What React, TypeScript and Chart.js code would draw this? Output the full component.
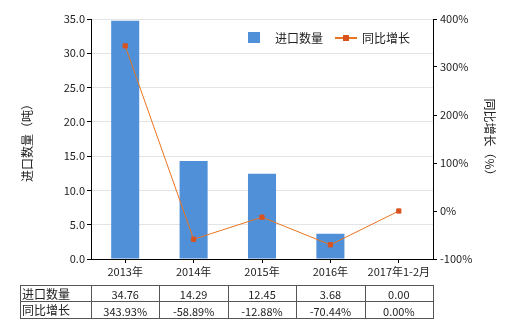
import React, { useEffect, useRef } from 'react';
import { Chart, registerables } from 'chart.js';
Chart.register(...registerables);

const categories = ['2013年', '2014年', '2015年', '2016年', '2017年1-2月'];
const importQty = [34.76, 14.29, 12.45, 3.68, 0.0];
const yoyGrowth = [343.93, -58.89, -12.88, -70.44, 0.0];
const qtyLabels = ['34.76', '14.29', '12.45', '3.68', '0.00'];
const growthLabels = ['343.93%', '-58.89%', '-12.88%', '-70.44%', '0.00%'];
const seriesNames = ['进口数量', '同比增长'];
const leftTitle = '进口数量（吨）';
const rightTitle = '同比增长（%）';

const FONT = '"Noto Sans CJK SC", "Noto Sans", sans-serif';
const BAR_COLOR = '#5090d8';
const LINE_COLOR = '#ea7420';
const POINT_COLOR = '#d9531e';
const TEXT = '#222';

const overlay = {
  id: 'overlay',
  afterDraw(chart: any) {
    const ctx = chart.ctx;
    const x = chart.scales.x;
    ctx.save();
    // axis titles
    ctx.fillStyle = TEXT;
    ctx.font = `12px ${FONT}`;
    ctx.textAlign = 'center';
    ctx.textBaseline = 'middle';
    ctx.save();
    ctx.translate(27, 140);
    ctx.rotate(-Math.PI / 2);
    ctx.fillText(leftTitle, 0, 0);
    ctx.restore();
    ctx.save();
    ctx.translate(490, 140);
    ctx.rotate(Math.PI / 2);
    ctx.fillText(rightTitle, 0, 0);
    ctx.restore();

    // legend
    ctx.font = `12px ${FONT}`;
    ctx.textAlign = 'left';
    ctx.fillStyle = BAR_COLOR;
    ctx.fillRect(248, 32, 12, 11);
    ctx.fillStyle = TEXT;
    ctx.fillText(seriesNames[0], 275, 38);
    ctx.strokeStyle = LINE_COLOR;
    ctx.lineWidth = 2;
    ctx.beginPath();
    ctx.moveTo(335, 38);
    ctx.lineTo(357, 38);
    ctx.stroke();
    ctx.fillStyle = POINT_COLOR;
    ctx.fillRect(343, 35, 6, 6);
    ctx.fillStyle = TEXT;
    ctx.fillText(seriesNames[1], 362, 38);

    // table
    const top = 285, mid = 301, bot = 318, left = 20;
    const step = x.getPixelForValue(1) - x.getPixelForValue(0);
    const right = x.getPixelForValue(categories.length - 1) + step / 2;
    ctx.strokeStyle = '#555';
    ctx.lineWidth = 1;
    ctx.beginPath();
    [top, mid, bot].forEach((yy) => {
      ctx.moveTo(left, yy + 0.5);
      ctx.lineTo(right, yy + 0.5);
    });
    ctx.moveTo(left + 0.5, top);
    ctx.lineTo(left + 0.5, bot + 1);
    for (let i = 0; i < categories.length; i++) {
      const xx = Math.round(x.getPixelForValue(i) - step / 2) + 0.5;
      ctx.moveTo(xx, top);
      ctx.lineTo(xx, bot + 1);
    }
    ctx.moveTo(Math.round(right) + 0.5, top);
    ctx.lineTo(Math.round(right) + 0.5, bot + 1);
    ctx.stroke();

    ctx.fillStyle = TEXT;
    ctx.font = `12px ${FONT}`;
    ctx.textAlign = 'left';
    ctx.fillText(seriesNames[0], left + 2, (top + mid) / 2 + 1);
    ctx.fillText(seriesNames[1], left + 2, (mid + bot) / 2 + 1);
    ctx.font = `11px ${FONT}`;
    ctx.textAlign = 'center';
    for (let i = 0; i < categories.length; i++) {
      const cx = x.getPixelForValue(i);
      ctx.fillText(qtyLabels[i], cx, (top + mid) / 2 + 2);
      ctx.fillText(growthLabels[i], cx, (mid + bot) / 2 + 2);
    }
    ctx.restore();
  },
};

export default function App() {
  const ref = useRef<HTMLCanvasElement | null>(null);
  useEffect(() => {
    document.body.style.margin = '0';
    const chart = new Chart(ref.current as HTMLCanvasElement, {
      type: 'bar',
      data: {
        labels: categories,
        datasets: [
          {
            type: 'line',
            label: seriesNames[1],
            data: yoyGrowth,
            yAxisID: 'y1',
            borderColor: LINE_COLOR,
            borderWidth: 1,
            pointStyle: 'rect',
            pointRadius: 3,
            pointBackgroundColor: POINT_COLOR,
            pointBorderColor: POINT_COLOR,
            order: 0,
          } as any,
          {
            type: 'bar',
            label: seriesNames[0],
            data: importQty,
            yAxisID: 'y',
            backgroundColor: BAR_COLOR,
            barPercentage: 0.41,
            categoryPercentage: 1,
            order: 1,
          },
        ],
      },
      options: {
        responsive: false,
        animation: false,
        layout: { padding: { top: 19, left: 0, right: 0, bottom: 0 } },
        plugins: { legend: { display: false }, tooltip: { enabled: false } },
        scales: {
          x: {
            grid: { display: true, drawOnChartArea: false, offset: false, tickLength: 4, color: '#000' },
            border: { color: '#000' },
            ticks: { color: TEXT, font: { size: 11, family: FONT }, padding: 2, maxRotation: 0 },
            afterFit: (s: any) => { s.height = 71; },
          },
          y: {
            position: 'left',
            min: 0,
            max: 35,
            ticks: { stepSize: 5, color: TEXT, font: { size: 11, family: FONT }, padding: 2, callback: (v: any) => Number(v).toFixed(1) },
            grid: { color: '#e4e4e4', tickColor: '#000', tickLength: 4 },
            border: { color: '#000' },
            afterFit: (s: any) => { s.width = 91; },
          },
          y1: {
            position: 'right',
            min: -100,
            max: 400,
            ticks: { stepSize: 100, color: TEXT, font: { size: 11, family: FONT }, padding: 3, callback: (v: any) => `${v}%` },
            grid: { drawOnChartArea: false, tickColor: '#000', tickLength: 4 },
            border: { color: '#000' },
            afterFit: (s: any) => { s.width = 87; },
          },
        },
      },
      plugins: [overlay],
    });
    return () => chart.destroy();
  }, []);
  return (
    <div style={{ width: 520, height: 330 }}>
      <canvas ref={ref} width={520} height={330} />
    </div>
  );
}
